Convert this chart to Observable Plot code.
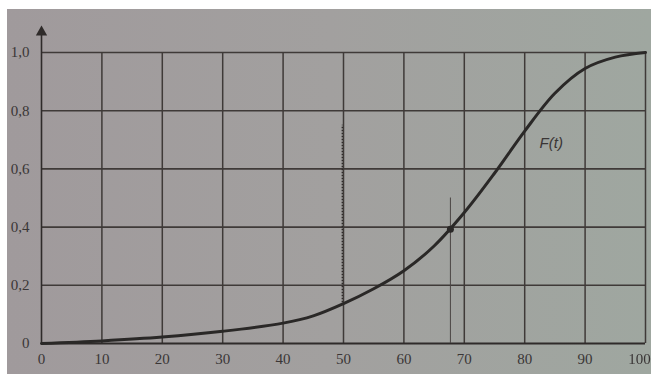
<!DOCTYPE html>
<html>
<head>
<meta charset="utf-8">
<script src="https://cdn.jsdelivr.net/npm/d3@7"></script>
<script src="https://cdn.jsdelivr.net/npm/@observablehq/plot@0.6"></script>
<style>
  html, body { margin: 0; padding: 0; background: #ffffff; }
  #chart svg { display: block; filter: blur(0.45px); }
</style>
</head>
<body>
<div id="chart"></div>
<script>
// Curve F(t)
const tValues = [0, 10, 20, 30, 40, 45, 50, 55, 60, 65, 70, 75, 80, 85, 90, 95, 100];
const fValues = [0, 0.009, 0.022, 0.042, 0.07, 0.095, 0.137, 0.188, 0.25, 0.335, 0.45, 0.585, 0.73, 0.86, 0.945, 0.984, 1.0];

// Axis ticks and labels
const xTicks = [0, 10, 20, 30, 40, 50, 60, 70, 80, 90];
const xLastTick = [100];
const yTicks = [0, 0.2, 0.4, 0.6, 0.8, 1.0];
const yTickLabels = ["0", "0,2", "0,4", "0,6", "0,8", "1,0"];
const xGrid = [10, 20, 30, 40, 50, 60, 70, 80, 90, 100];
const yGrid = [0.2, 0.4, 0.6, 0.8, 1.0];

// Marked point and helper lines
const markT = [67.7];
const markF = [0.393];
const markLineTop = [0.5];
const dottedT = [49.8];
const dottedFrom = [0.14];
const dottedTo = [0.75];
const curveLabel = ["F(t)"];
const curveLabelT = [84.4];
const curveLabelF = [0.69];
const axisTop = [1.09];

const curve = tValues.map((t, i) => ({t, f: fValues[i]}));
const ink = "#3a3636";
const serif = "Liberation Serif, Times New Roman, serif";

const plot = Plot.plot({
  width: 651,
  height: 374,
  marginLeft: 41,
  marginRight: 6,
  marginTop: 52,
  marginBottom: 31,
  style: {
    background: "linear-gradient(to right, #a09a9c, #a2a09f 50%, #9fa7a0) 7px 9px / 644px 365px no-repeat, #ffffff",
    overflow: "visible"
  },
  x: {domain: [0, 100]},
  y: {domain: [0, 1]},
  marks: [
    // grid
    Plot.ruleY(yGrid, {x1: 0, x2: 100, y: d => d, stroke: "#3f3a38", strokeWidth: 1.6}),
    Plot.ruleX(xGrid, {x: d => d, y1: 0, y2: 1, stroke: "#3f3a38", strokeWidth: 1.5}),
    // axes lines
    Plot.ruleY([0], {x1: 0, x2: 100, stroke: "#2f2b2a", strokeWidth: 1.8}),
    Plot.ruleX([0], {y1: 0, y2: axisTop[0] - 0.01, stroke: "#2f2b2a", strokeWidth: 1.6}),
    Plot.dot([0], {x: 0, y: axisTop[0] - 0.02, symbol: "triangle", r: 4.2, fill: "#2f2b2a", stroke: "none"}),
    // helper lines
    Plot.ruleX(dottedT, {x: d => d, y1: dottedFrom[0], y2: dottedTo[0], stroke: "#2f2b2a", strokeWidth: 1.4, strokeDasharray: "1.5,1.5"}),
    Plot.ruleX(markT, {x: d => d, y1: 0, y2: markLineTop[0], stroke: "#4a4544", strokeWidth: 1}),
    // curve
    Plot.line(curve, {x: "t", y: "f", curve: "catmull-rom", stroke: "#2a2827", strokeWidth: 3}),
    Plot.dot(markT, {x: d => d, y: (d, i) => markF[i], r: 3.5, fill: "#2a2827", stroke: "none"}),
    // label
    Plot.text(curveLabel, {x: (d, i) => curveLabelT[i], y: (d, i) => curveLabelF[i], text: d => d,
      fontFamily: "Liberation Sans, Arial, sans-serif", fontStyle: "italic", fontSize: 15, fill: ink, letterSpacing: "1.2px"}),
    // tick labels
    Plot.axisX(xTicks, {tickSize: 0, tickPadding: 10, fontSize: 15, fontFamily: serif, fill: ink, label: null, tickFormat: d => String(d)}),
    Plot.axisX(xLastTick, {tickSize: 0, tickPadding: 10, dx: -6, fontSize: 15, fontFamily: serif, fill: ink, label: null, tickFormat: d => String(d)}),
    Plot.axisY(yTicks, {tickSize: 0, tickPadding: 12, fontSize: 15, fontFamily: serif, fill: ink, label: null, tickFormat: d => yTickLabels[yTicks.indexOf(d)]})
  ]
});
document.getElementById("chart").appendChild(plot);
</script>
</body>
</html>
